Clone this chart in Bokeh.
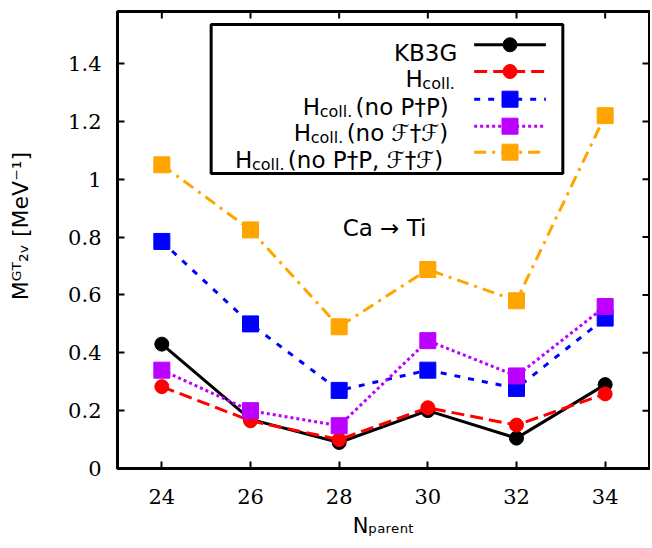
from bokeh.plotting import figure
from bokeh.models import Label, BoxAnnotation, FixedTicker, Range1d
from bokeh.embed import file_html
from bokeh.resources import INLINE

# ---------------- data ----------------
n_parent = [24, 26, 28, 30, 32, 34]
kb3g = [0.43, 0.17, 0.09, 0.20, 0.105, 0.29]
hcoll = [0.283, 0.165, 0.10, 0.21, 0.15, 0.258]
hcoll_no_pp = [0.785, 0.50, 0.27, 0.34, 0.277, 0.52]
hcoll_no_ff = [0.34, 0.20, 0.148, 0.442, 0.32, 0.56]
hcoll_no_both = [1.05, 0.825, 0.49, 0.688, 0.58, 1.22]

x_ticks = [24, 26, 28, 30, 32, 34]
y_ticks = [0, 0.2, 0.4, 0.6, 0.8, 1, 1.2, 1.4]
y_tick_labels = ["0", "0.2", "0.4", "0.6", "0.8", "1", "1.2", "1.4"]

X0, X1, Y0, Y1 = 23, 35, 0, 1.58

# ---------------- figure ----------------
W, H = 650, 546
BL, BR, BT, BB = 117, 1, 11, 78
p = figure(width=W, height=H, x_range=Range1d(X0, X1), y_range=Range1d(Y0, Y1),
           output_backend="svg", toolbar_location=None,
           min_border_left=BL, min_border_right=BR, min_border_top=BT, min_border_bottom=BB)
p.xgrid.visible = False
p.ygrid.visible = False
p.outline_line_color = "black"
p.outline_line_width = 3
p.outline_line_alpha = 1
p.background_fill_color = "white"
p.border_fill_color = "white"

xax = p.xaxis[0]
yax = p.yaxis[0]
xax.ticker = FixedTicker(ticks=x_ticks)
yax.ticker = FixedTicker(ticks=y_ticks)
yax.major_label_overrides = dict(zip(y_ticks, y_tick_labels))

for ax in [xax, yax]:
    ax.axis_line_color = None
    ax.major_tick_in = 7
    ax.major_tick_out = 0
    ax.major_tick_line_width = 2
    ax.major_tick_line_color = "black"
    ax.minor_tick_line_color = None
    ax.major_label_text_font = "DejaVu Serif"
    ax.major_label_text_font_size = "21px"
    ax.major_label_text_color = "black"
    ax.axis_label_text_font = "DejaVu Sans"
    ax.axis_label_text_font_style = "normal"
    ax.axis_label_text_color = "black"
xax.major_label_standoff = 20
yax.major_label_standoff = 16

xax.axis_label = "N\u209a\u2090\u1d63\u2091\u2099\u209c"
xax.axis_label_text_font_size = "21px"
xax.axis_label_standoff = 7
yax.axis_label = "\u00a0\u00a0\u00a0\u00a0M\u1d33\u1d40\u2082\u1d65 [MeV\u207b\u00b9]"
yax.axis_label_text_font_size = "22px"
yax.axis_label_standoff = 32

# mirrored inward ticks on the top and right edges (from the tick arrays)
frame_w = W - BL - BR
frame_h = H - BT - BB
tick_dx = 7 * (X1 - X0) / frame_w
tick_dy = 7 * (Y1 - Y0) / frame_h
p.segment(x0=x_ticks, y0=[Y1] * len(x_ticks), x1=x_ticks, y1=[Y1 - tick_dy] * len(x_ticks),
          line_color="black", line_width=2)
p.segment(x0=[X1] * len(y_ticks), y0=y_ticks, x1=[X1 - tick_dx] * len(y_ticks), y1=y_ticks,
          line_color="black", line_width=2)

# ---------------- series ----------------
series = [
    (kb3g, "black", "solid", "circle", 14),
    (hcoll, "#ff0000", "13 6", "circle", 14),
    (hcoll_no_pp, "#0000ff", "6 8", "square", 16),
    (hcoll_no_ff, "#bb00ff", "3 3", "square", 16),
    (hcoll_no_both, "#ffa500", "12 6 3 6", "square", 16),
]
for vals, col, dash, mk, sz in series:
    p.line(n_parent, vals, line_color=col, line_width=3, line_dash=dash)
    p.scatter(n_parent, vals, marker=mk, size=sz, fill_color=col, line_color=col)

# ---------------- helpers (reference pixel layout -> data coords) ----------------
RFL, RFR, RFT, RFB = 117, 651, 11, 468
def X(px):
    return X0 + (X1 - X0) * (px - RFL) / (RFR - RFL)
def Y(py):
    return Y0 + (Y1 - Y0) * (RFB - py) / (RFB - RFT)

def txt(px, py, s, size, align="left", font="DejaVu Sans"):
    p.add_layout(Label(x=X(px), y=Y(py), text=s, text_font_size=f"{size}px",
                       text_font=font, text_align=align, text_baseline="alphabetic",
                       text_color="black"))

# ---------------- legend ----------------
p.add_layout(BoxAnnotation(left=X(211), right=X(564), top=Y(24), bottom=Y(173),
                           fill_color="white", fill_alpha=1, line_color="black",
                           line_alpha=1, line_width=3, level="underlay"))
row_y = [44.3, 71.0, 98.7, 125.7, 151.7]
for (vals, col, dash, mk, sz), ry in zip(series, row_y):
    p.line([X(475), X(547)], [Y(ry), Y(ry)], line_color=col, line_width=3, line_dash=dash)
    p.scatter([X(511)], [Y(ry)], marker=mk, size=sz, fill_color=col, line_color=col)

LS, SS = 23, 16
txt(458, 52, "KB3G", LS, align="right")
# row 2
txt(406, 78.5, "H", LS)
txt(423, 83, "coll.", SS)
# row 3
txt(303, 106, "H", LS)
txt(320, 110.5, "coll.", SS)
txt(356, 106, "(no P\u2020P)", LS)
# row 4
txt(294, 132.5, "H", LS)
txt(311, 137, "coll.", SS)
txt(347, 132.5, "(no \u2131\u2020\u2131)", LS)
# row 5
txt(235, 159, "H", LS)
txt(252, 163.5, "coll.", SS)
txt(288, 159, "(no P\u2020P, \u2131\u2020\u2131)", LS)

# annotation
txt(343, 227.5, "Ca \u2192 Ti", 23)

open("out.html", "w").write(file_html(p, INLINE))
